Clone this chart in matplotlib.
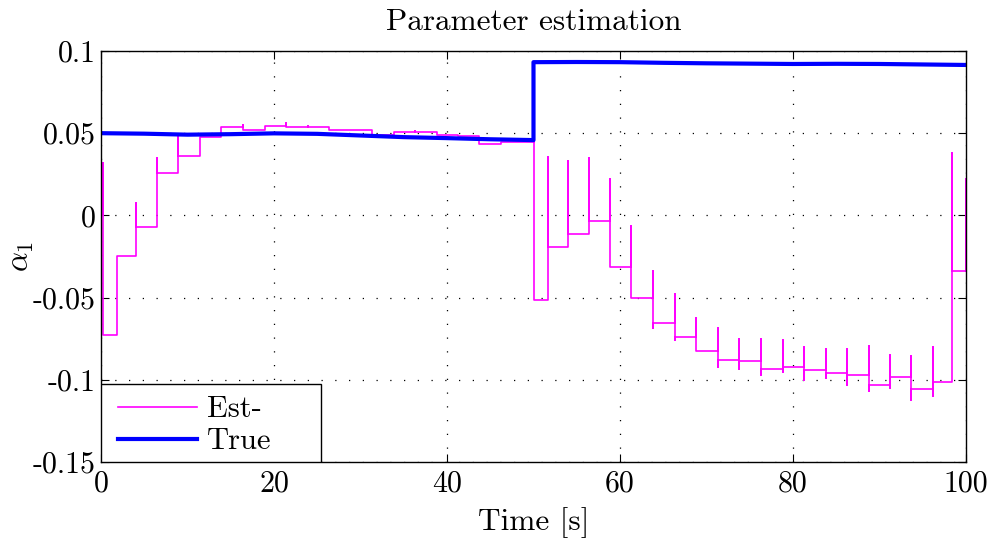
import numpy as np
import matplotlib.pyplot as plt
from matplotlib.patches import Rectangle

plt.rcParams['font.family'] = 'cmr10'
plt.rcParams['mathtext.fontset'] = 'cm'
plt.rcParams['axes.unicode_minus'] = False

# True parameter (blue)
true_t = [0, 5, 10, 15, 20, 25, 30, 35, 40, 45, 50, 50, 55, 60, 65, 70, 75, 80, 85, 90, 95, 100]
true_v = [0.0500, 0.0497, 0.0491, 0.0494, 0.0499, 0.0496, 0.0486, 0.0476, 0.0470, 0.0463, 0.0458,
          0.0932, 0.0933, 0.0932, 0.0928, 0.0925, 0.0923, 0.0921, 0.0922, 0.0921, 0.0918, 0.0915]

# Estimate (magenta): piecewise constant, updated at step times with a short transient
est_start = 0.0
step_t = [0.27, 1.8, 4.05, 6.5, 8.94, 11.4, 13.9, 16.4, 18.97, 21.4, 23.9, 26.4, 28.9, 31.3,
          33.9, 36.3, 38.8, 41.3, 43.7, 46.2, 50.1, 51.7, 54.0, 56.4, 58.8, 61.3, 63.8, 66.4,
          68.8, 71.3, 73.8, 76.3, 78.8, 81.3, 83.8, 86.2, 88.8, 91.2, 93.7, 96.2, 98.4]
step_level = [-0.073, -0.0248, -0.0071, 0.0258, 0.036, 0.0474, 0.0535, 0.0519, 0.0543, 0.0539,
              0.0535, 0.052, 0.0517, 0.049, 0.0505, 0.0505, 0.0486, 0.0482, 0.0433, 0.0447,
              -0.0512, -0.0193, -0.0112, -0.0037, -0.0315, -0.0502, -0.0654, -0.0738, -0.0823,
              -0.0880, -0.0884, -0.0937, -0.0922, -0.0941, -0.0957, -0.0971, -0.1031, -0.0982,
              -0.1057, -0.1014, -0.0336]
spike_hi = [0.0317, -0.0248, 0.0075, 0.035, 0.049, 0.0474, 0.0535, 0.055, 0.0543, 0.056,
            0.0545, 0.0535, 0.052, 0.0517, 0.0505, 0.0515, 0.0505, 0.049, 0.0482, 0.0447,
            0.045, 0.0356, 0.0331, 0.035, 0.022, -0.0067, -0.0336, -0.0478, -0.0624,
            -0.0685, -0.0752, -0.0752, -0.0758, -0.0800, -0.0810, -0.0815, -0.0797, -0.0848,
            -0.0856, -0.0803, 0.0382]
spike_lo = [-0.073, -0.073, -0.0248, -0.0071, 0.0258, 0.036, 0.0474, 0.0519, 0.0519, 0.0539,
            0.0535, 0.052, 0.0517, 0.049, 0.049, 0.0505, 0.0486, 0.0482, 0.0433, 0.0433,
            -0.0512, -0.0512, -0.0193, -0.0112, -0.0315, -0.0502, -0.0685, -0.0758, -0.0823,
            -0.0925, -0.0935, -0.0972, -0.0950, -0.1002, -0.0988, -0.1033, -0.1070, -0.1051,
            -0.1124, -0.1100, -0.1014]
end_t = 100
end_spike = 0.0224

# build the staircase path
est_x = [0.0]
est_y = [est_start]
prev = est_start
for t, lev, hi, lo in zip(step_t, step_level, spike_hi, spike_lo):
    est_x += [t, t, t, t]
    est_y += [prev, hi, lo, lev]
    prev = lev
est_x += [end_t, end_t, end_t]
est_y += [prev, end_spike, prev]

fig = plt.figure(figsize=(9.97, 5.5), dpi=100)
ax = fig.add_axes([0.1013, 0.16, 0.8676, 0.7473])

ax.plot(est_x, est_y, color='#ff00ff', linewidth=1.2, label='Est-')
ax.plot(true_t, true_v, color='#0000ff', linewidth=3.0, label='True')

ax.set_xlim(0, 100)
ax.set_ylim(-0.15, 0.1)
ax.set_xticks([0, 20, 40, 60, 80, 100])
ax.set_xticklabels(['0', '20', '40', '60', '80', '100'])
ax.set_yticks([-0.15, -0.1, -0.05, 0, 0.05, 0.1])
ax.set_yticklabels(['-0.15', '-0.1', '-0.05', '0', '0.05', '0.1'])

ax.set_axisbelow(True)
ax.grid(True, linestyle=(0, (1, 10)), color='k', linewidth=0.9)
ax.tick_params(direction='in', top=True, right=True, length=6, width=0.8, labelsize=21.5)
ax.tick_params(axis='x', pad=6)
ax.tick_params(axis='y', pad=4)
for s in ax.spines.values():
    s.set_linewidth(1.0)

ax.set_title('Parameter estimation', fontsize=22.5, pad=15)
ax.set_xlabel('Time [s]', fontsize=22.5, labelpad=7)
ax.set_ylabel(r'$\alpha_1$', fontsize=22.5)
ax.yaxis.set_label_coords(-0.075, 0.5)

# legend box: wide frame, entries sit at its left
ax.add_patch(Rectangle((0, 0), 0.254, 0.19, transform=ax.transAxes, facecolor='white',
                       edgecolor='k', linewidth=1.0, zorder=5))
leg = ax.legend(loc='lower left', bbox_to_anchor=(0.0197, 0.016), frameon=False,
                borderaxespad=0, borderpad=0, fontsize=22, handlelength=2.6,
                handletextpad=0.3, labelspacing=0.15)
leg.set_zorder(6)

plt.savefig('out.png', dpi=100)
